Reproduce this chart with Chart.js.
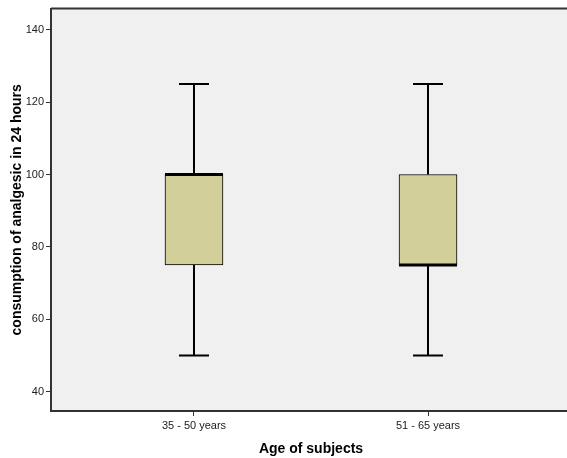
<!DOCTYPE html>
<html>
<head>
<meta charset="utf-8">
<script src="https://cdn.jsdelivr.net/npm/chart.js@4/dist/chart.umd.min.js"></script>
<style>
  html, body { margin: 0; padding: 0; background: #fff; overflow: hidden; }
  #wrap { width: 571px; height: 458px; }
</style>
</head>
<body>
<div id="wrap"><canvas id="grafico"></canvas></div>
<script>
// ===== DATA =====
const categorias = ['35 - 50 years', '51 - 65 years'];
const minimos = [50, 50];
const quartil1 = [75, 75];
const medianas = [100, 75];
const quartil3 = [100, 100];
const maximos = [125, 125];
const ticksY = [40, 60, 80, 100, 120, 140];

// fundo cinza da área do gráfico + borda superior
const fundoArea = {
  id: 'fundoArea',
  beforeDraw(chart) {
    const { ctx, chartArea: a } = chart;
    ctx.save();
    ctx.fillStyle = '#f0f0f0';
    ctx.fillRect(a.left, a.top, a.right - a.left, a.bottom - a.top);
    ctx.strokeStyle = '#333';
    ctx.lineWidth = 2;
    ctx.beginPath();
    ctx.moveTo(a.left, a.top);
    ctx.lineTo(a.right, a.top);
    ctx.stroke();
    ctx.restore();
  }
};

// bigodes e mediana desenhados com as escalas do Chart.js
const bigodes = {
  id: 'bigodes',
  afterDatasetsDraw(chart) {
    const { ctx } = chart;
    const x = chart.scales.x, y = chart.scales.y;
    const meta = chart.getDatasetMeta(0);
    ctx.save();
    ctx.strokeStyle = '#000';
    categorias.forEach((c, i) => {
      const cx = x.getPixelForValue(i);
      const half = meta.data[i].width / 2;
      const cap = 15;
      ctx.lineWidth = 2;
      ctx.beginPath();
      ctx.moveTo(cx, y.getPixelForValue(quartil3[i]));
      ctx.lineTo(cx, y.getPixelForValue(maximos[i]));
      ctx.moveTo(cx - cap, y.getPixelForValue(maximos[i]));
      ctx.lineTo(cx + cap, y.getPixelForValue(maximos[i]));
      ctx.moveTo(cx, y.getPixelForValue(quartil1[i]));
      ctx.lineTo(cx, y.getPixelForValue(minimos[i]));
      ctx.moveTo(cx - cap, y.getPixelForValue(minimos[i]));
      ctx.lineTo(cx + cap, y.getPixelForValue(minimos[i]));
      ctx.stroke();
      ctx.lineWidth = 3;
      ctx.beginPath();
      ctx.moveTo(cx - half, y.getPixelForValue(medianas[i]));
      ctx.lineTo(cx + half, y.getPixelForValue(medianas[i]));
      ctx.stroke();
    });
    ctx.restore();
  }
};

Chart.defaults.font.family = 'Arial, "Liberation Sans", sans-serif';
Chart.defaults.color = '#222';

new Chart(document.getElementById('grafico'), {
  type: 'bar',
  data: {
    datasets: [{
      data: categorias.map((c, i) => ({ x: i, y: [quartil1[i], quartil3[i]] })),
      backgroundColor: '#d3cf9b',
      borderColor: '#000',
      borderWidth: 1,
      borderSkipped: false,
      barThickness: 58
    }]
  },
  options: {
    responsive: true,
    maintainAspectRatio: false,
    animation: false,
    layout: { padding: { top: 7, right: 0, left: 0, bottom: 0 } },
    plugins: { legend: { display: false }, tooltip: { enabled: false } },
    scales: {
      x: {
        type: 'linear',
        min: -0.611,
        max: 1.611,
        offset: false,
        afterFit(s) { s.height = 47; },
        afterBuildTicks(s) { s.ticks = categorias.map((c, i) => ({ value: i })); },
        grid: { offset: false, drawOnChartArea: false, drawTicks: true, tickLength: 5, color: '#333', tickWidth: 1 },
        border: { display: true, color: '#333', width: 2 },
        ticks: { font: { size: 11 }, padding: 3, color: '#222', callback: v => categorias[v] },
        title: { display: true, text: 'Age of subjects', font: { size: 14, weight: 'bold' }, color: '#000', padding: { top: 6, bottom: 0 } }
      },
      y: {
        min: 34.7,
        max: 145.8,
        afterFit(s) { s.width = 51; },
        afterBuildTicks(s) { s.ticks = ticksY.map(v => ({ value: v })); },
        grid: { drawOnChartArea: false, drawTicks: true, tickLength: 5, color: '#333', tickWidth: 1 },
        border: { display: true, color: '#333', width: 2 },
        ticks: { font: { size: 11 }, padding: 2, color: '#222' },
        title: { display: true, text: 'consumption of analgesic in 24 hours', font: { size: 14, weight: 'bold' }, color: '#000', padding: { top: 9, bottom: 0 } }
      }
    }
  },
  plugins: [fundoArea, bigodes]
});
</script>
</body>
</html>
